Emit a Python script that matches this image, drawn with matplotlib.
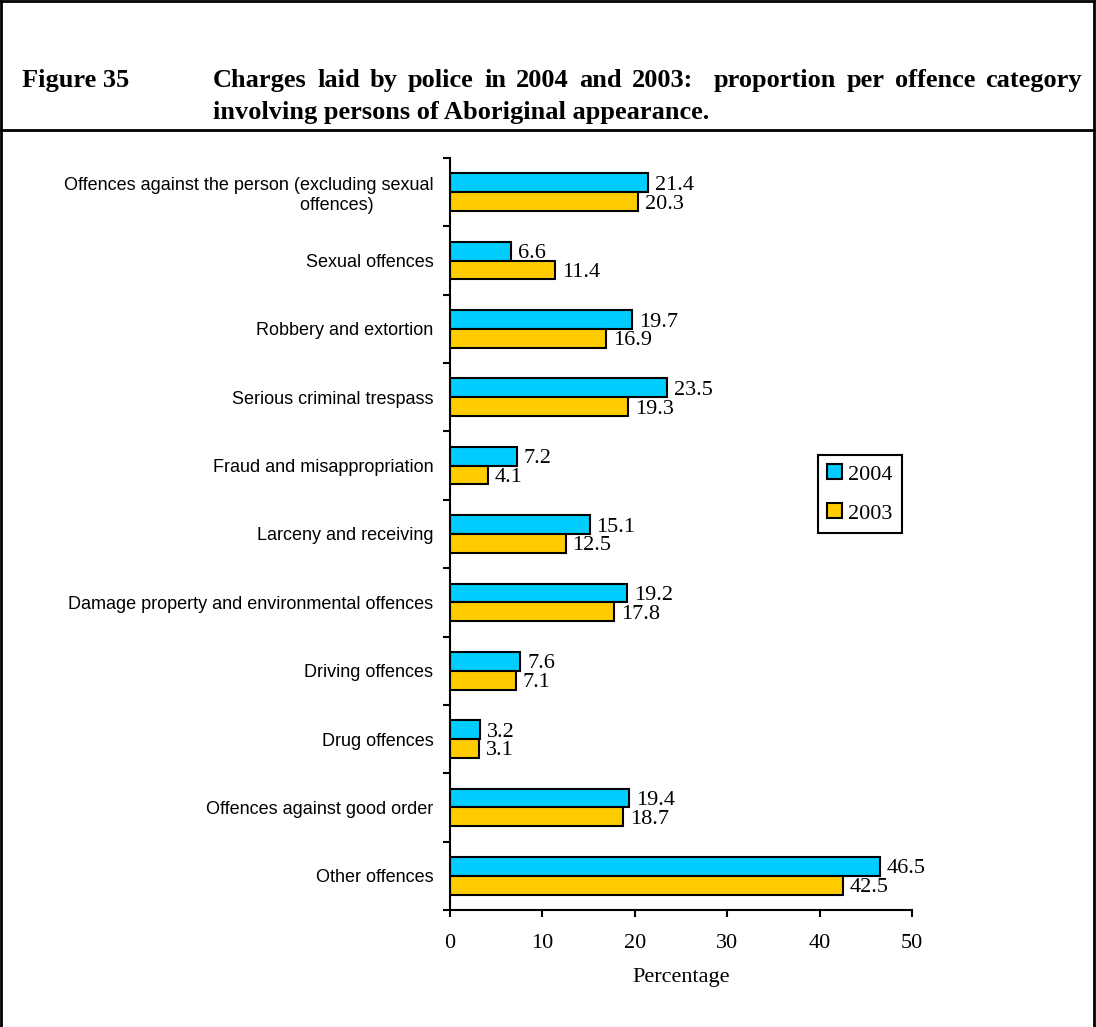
import matplotlib
matplotlib.use("Agg")
import matplotlib.pyplot as plt
from matplotlib.patches import Patch
from matplotlib.lines import Line2D
import numpy as np

categories = [
    "Offences against the person (excluding sexual\noffences)" + " " * 12,
    "Sexual offences",
    "Robbery and extortion",
    "Serious criminal trespass",
    "Fraud and misappropriation",
    "Larceny and receiving",
    "Damage property and environmental offences",
    "Driving offences",
    "Drug offences",
    "Offences against good order",
    "Other offences",
]
vals_2004 = [21.4, 6.6, 19.7, 23.5, 7.2, 15.1, 19.2, 7.6, 3.2, 19.4, 46.5]
vals_2003 = [20.3, 11.4, 16.9, 19.3, 4.1, 12.5, 17.8, 7.1, 3.1, 18.7, 42.5]
xticks = [0, 10, 20, 30, 40, 50]
title1 = "Charges laid by police in 2004 and 2003:  proportion per offence category"
title2 = "involving persons of Aboriginal appearance."

blue = "#00CCFF"
gold = "#FFCC00"
serif = "Liberation Serif"
sans = "Liberation Sans"

fig = plt.figure(figsize=(10.96, 10.27), dpi=100)
ax = fig.add_axes([450 / 1096, 1 - 910 / 1027, 462 / 1096, 752 / 1027])

n = len(categories)
y = np.arange(n)
h = 0.275
ax.barh(y - h / 2, vals_2004, height=h, color=blue, edgecolor="black", linewidth=1.5, label="2004")
ax.barh(y + h / 2, vals_2003, height=h, color=gold, edgecolor="black", linewidth=1.5, label="2003")

# value labels
for i in range(n):
    ax.text(vals_2004[i] + 0.75, y[i] - h / 2, f"{vals_2004[i]:.1f}", va="center_baseline",
            ha="left", fontsize=16, family=serif)
    ax.text(vals_2003[i] + 0.75, y[i] + h / 2, f"{vals_2003[i]:.1f}", va="center_baseline",
            ha="left", fontsize=16, family=serif)

ax.set_ylim(n - 0.5, -0.5)
ax.set_xlim(0, 50)
ax.set_yticks(y)
ax.set_yticklabels(categories, fontsize=13, family=sans)
ax.set_yticks(np.arange(n + 1) - 0.5, minor=True)
ax.tick_params(axis="y", which="major", length=0, pad=12)
ax.tick_params(axis="y", which="minor", length=5, width=1.5)
ax.set_xticks(xticks)
ax.set_xticklabels([str(t) for t in xticks], fontsize=16, family=serif)
ax.tick_params(axis="x", length=5, width=1.5, pad=12)
ax.set_xlabel("Percentage", fontsize=16, family=serif, labelpad=11)

for s in ["top", "right"]:
    ax.spines[s].set_visible(False)
for s in ["left", "bottom"]:
    ax.spines[s].set_linewidth(1.5)

handles = [Patch(facecolor=blue, edgecolor="black", linewidth=1.5, label="2004"),
           Patch(facecolor=gold, edgecolor="black", linewidth=1.5, label="2003")]
leg = ax.legend(handles=handles, loc="upper left", bbox_to_anchor=(818 / 1096, 1 - 455 / 1027),
                bbox_transform=fig.transFigure, prop={"family": serif, "size": 16},
                fancybox=False, framealpha=1, edgecolor="black", handlelength=0.65,
                handleheight=0.65, handletextpad=0.3, labelspacing=0.85, borderpad=0.42,
                borderaxespad=0)
leg.get_frame().set_linewidth(1.5)

# border (open at the bottom) and title band
yb = 1 - 130 / 1027
for xs, ys in [([0.001, 0.001], [0, 0.999]), ([0.998, 0.998], [0, 0.999]),
               ([0.001, 0.998], [0.999, 0.999]), ([0, 1], [yb, yb])]:
    fig.lines.append(Line2D(xs, ys, transform=fig.transFigure, color="black", linewidth=2))

tkw = dict(fontsize=19, fontweight="bold", family=serif, va="baseline", ha="left")
fig.text(22 / 1096, 1 - 87 / 1027, "Figure 35", **tkw)

# first title line is justified between x=213 and x=1082 px
# (split on single spaces so the double space after the colon stays wider)
renderer = fig.canvas.get_renderer()
words = title1.split(" ")
texts = [fig.text(0, 1 - 87 / 1027, w, **tkw) for w in words]
widths = [t.get_window_extent(renderer).width if w else 0.0 for t, w in zip(texts, words)]
gap = (1082 - 213 - sum(widths)) / (len(words) - 1)
xpos = 213.0
for t, w in zip(texts, widths):
    t.set_x(xpos / 1096)
    xpos += w + gap
fig.text(213 / 1096, 1 - 119 / 1027, title2, **tkw)

fig.savefig("out.png", dpi=100)
